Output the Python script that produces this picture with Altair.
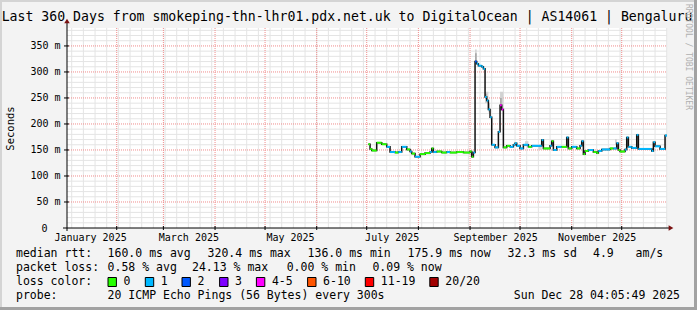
import altair as alt
import pandas as pd

MONO = "DejaVu Sans Mono"

# ---------------- data ----------------
seg_start = [
    "2025-07-02", "2025-07-03", "2025-07-04", "2025-07-07", "2025-07-10", "2025-07-13", "2025-07-15",
    "2025-07-18", "2025-07-20", "2025-07-22", "2025-07-25", "2025-07-27", "2025-07-28", "2025-07-30",
    "2025-08-02", "2025-08-05", "2025-08-08", "2025-08-09", "2025-08-10", "2025-08-12", "2025-08-15",
    "2025-08-18", "2025-08-20", "2025-08-24", "2025-08-28",
    "2025-09-01", "2025-09-02", "2025-09-03", "2025-09-04", "2025-09-05", "2025-09-06", "2025-09-08",
    "2025-09-09", "2025-09-10", "2025-09-11", "2025-09-12", "2025-09-13", "2025-09-14", "2025-09-16",
    "2025-09-18", "2025-09-19", "2025-09-20", "2025-09-21", "2025-09-23", "2025-09-25", "2025-09-27",
    "2025-09-28", "2025-09-29",
    "2025-10-01", "2025-10-03", "2025-10-06", "2025-10-08", "2025-10-14", "2025-10-15", "2025-10-19",
    "2025-10-20", "2025-10-21", "2025-10-23", "2025-10-26", "2025-10-29", "2025-10-30",
    "2025-11-01", "2025-11-04", "2025-11-06", "2025-11-07", "2025-11-08", "2025-11-09", "2025-11-11",
    "2025-11-14", "2025-11-16", "2025-11-17", "2025-11-19", "2025-11-24", "2025-11-26", "2025-11-28",
    "2025-11-29", "2025-11-30",
    "2025-12-03", "2025-12-04", "2025-12-05", "2025-12-07", "2025-12-10", "2025-12-11", "2025-12-19",
    "2025-12-20", "2025-12-21", "2025-12-24", "2025-12-27",
]
seg_rtt = [
    161, 152, 149, 164, 161, 156, 146, 145, 146, 156, 151, 147, 143, 137,
    142, 144, 146, 153, 146, 147, 145, 146, 145, 146, 145,
    147, 137, 145, 320, 316, 312, 310, 306, 252, 245, 228, 213, 160, 155, 185, 236, 228, 155, 158,
    156, 160, 163, 158,
    153, 160, 156, 158, 169, 153, 158, 167, 150, 156, 156, 174, 153,
    156, 153, 158, 167, 142, 148, 150, 146, 144, 148, 151, 153, 153, 163, 150, 147,
    151, 174, 156, 154, 179, 152, 148, 165, 157, 152, 178,
]
seg_loss = [
    "0", "0", "0", "0", "0", "1", "1", "0", "1", "1", "0", "1", "0", "1",
    "0", "0", "1", "0", "1", "0", "0", "1", "0", "0", "0",
    "0", "0", "1", "2", "1", "1", "1", "1", "1", "1", "1", "1", "1", "1", "1", "4-5", "4-5", "0", "0",
    "1", "1", "1", "1",
    "1", "1", "0", "1", "1", "0", "1", "0", "1", "1", "0", "1", "0",
    "1", "0", "1", "1", "0", "0", "1", "0", "0", "1", "1", "0", "1", "1", "0", "0",
    "1", "1", "1", "1", "1", "1", "1", "1", "1", "1", "1",
]
END_TIME = "2025-12-28T04:05:00Z"

# smoke (spread of the pings)
smoke_out_start = ["2025-09-04", "2025-09-10", "2025-09-12", "2025-09-19", "2025-10-04", "2025-10-12", "2025-11-27"]
smoke_out_end = ["2025-09-05", "2025-09-12", "2025-09-13", "2025-09-21", "2025-10-06", "2025-10-14", "2025-11-28"]
smoke_out_lo = [316, 240, 222, 226, 157, 150, 160]
smoke_out_hi = [343, 262, 240, 262, 167, 160, 171]
smoke_in_start = ["2025-09-04", "2025-09-10", "2025-09-19"]
smoke_in_end = ["2025-09-05", "2025-09-11", "2025-09-20"]
smoke_in_lo = [318, 248, 230]
smoke_in_hi = [336, 258, 250]

loss_labels = ["0", "1", "2", "3", "4-5", "6-10", "11-19", "20/20"]
loss_colors = ["#26ff00", "#00b8ff", "#0059ff", "#7e00ff", "#ff00ff", "#ff5500", "#ff0000", "#a10000"]

y_tick_values = [0, 50, 100, 150, 200, 250, 300, 350]
y_minor_values = [v for v in range(10, 390, 10) if v % 50 != 0]
y_major_values = [50, 100, 150, 200, 250, 300, 350]
label_months = [1, 3, 5, 7, 9, 11]

title_text = "Last 360 Days from smokeping-thn-lhr01.pdx.net.uk to DigitalOcean | AS14061 | Bengaluru"
row_rtt = ["median rtt:", "160.0 ms avg", "320.4 ms max", "136.0 ms min", "175.9 ms now", "32.3 ms sd", "4.9", "am/s"]
row_loss = ["packet loss:", "0.58 % avg", "24.13 % max", "0.00 % min", "0.09 % now"]
row_probe = ["probe:", "20 ICMP Echo Pings (56 Bytes) every 300s"]
probe_date = "Sun Dec 28 04:05:49 2025"

# ---------------- layout (pixels) ----------------
PL, PT, W, H = 67, 28, 600, 200
TOTAL_W, TOTAL_H = 697, 310
row_rtt_x = [16, 107.6, 207.6, 307.6, 407.6, 507.6, 593, 635.6]
row_loss_x = [16, 107.6, 192, 286.7, 372.4]
row_probe_x = [16, 107.6]
box_x = [108, 145.3, 182, 219.6, 256.4, 307.6, 365.3, 429.8]
ROW_Y = [254, 268, 282, 296]
FS = 11.5
MINOR_GRID = "#e4e4e4"
MAJOR_GRID = "#f08c8c"

week_dates = pd.date_range("2025-01-05", "2025-12-28", freq="7D").strftime("%Y-%m-%d").tolist()
month_dates = pd.date_range("2025-02-01", "2025-12-01", freq="MS").strftime("%Y-%m-%d").tolist()

x_scale = alt.Scale(
    type="utc",
    domain=[alt.DateTime(year=2025, month=1, date=2, hours=4, minutes=5, utc=True),
            alt.DateTime(year=2025, month=12, date=28, hours=4, minutes=5, utc=True)],
    nice=False,
)
y_scale = alt.Scale(domain=[0, 384.5], nice=False, zero=True)

x_axis = alt.Axis(
    values=[alt.DateTime(year=2025, month=m, date=16, utc=True) for m in label_months],
    labelExpr="utcFormat(datum.value, '%B %Y')",
    grid=False, ticks=False, domain=False,
    labelFont=MONO, labelFontSize=10, labelColor="#000000", labelPadding=4,
    labelFlush=False, labelOverlap=False, labelAngle=0, title=None,
)
y_axis = alt.Axis(
    values=y_tick_values,
    labelExpr="datum.value == 0 ? '0' : datum.value + '\u00a0m'",
    grid=False, ticks=False, domain=False,
    labelFont=MONO, labelFontSize=10, labelColor="#000000",
    labelPadding={"condition": {"test": "datum.value == 0", "value": 20}, "value": 7},
    title="Seconds", titleFont=MONO, titleFontSize=10.5, titleFontWeight="normal",
    titleColor="#000000", titleX=-56.5, titleY=100, titleAngle=270,
    titleAlign="center", titleBaseline="middle",
)


def X(f):
    return alt.X(f"{f}:T", scale=x_scale, axis=x_axis)


def Y(f):
    return alt.Y(f"{f}:Q", scale=y_scale, axis=y_axis)


one = pd.DataFrame({"k": [0]})
layers = []

# grid: minor (weekly / 10 ms) light grey, major (monthly / 50 ms) red dotted
layers.append(alt.Chart(pd.DataFrame({"w": week_dates})).mark_rule(color=MINOR_GRID, strokeWidth=1)
              .encode(x=X("w"), y=alt.value(0), y2=alt.value(H)))
layers.append(alt.Chart(pd.DataFrame({"nv": y_minor_values})).mark_rule(color=MINOR_GRID, strokeWidth=1)
              .encode(y=Y("nv"), x=alt.value(0), x2=alt.value(W)))
layers.append(alt.Chart(pd.DataFrame({"m": month_dates})).mark_rule(color=MAJOR_GRID, strokeDash=[1, 1], strokeWidth=1)
              .encode(x=X("m"), y=alt.value(0), y2=alt.value(H)))
layers.append(alt.Chart(pd.DataFrame({"mv": y_major_values})).mark_rule(color=MAJOR_GRID, strokeDash=[1, 1], strokeWidth=1)
              .encode(y=Y("mv"), x=alt.value(0), x2=alt.value(W)))

# smoke
smoke_out = pd.DataFrame({"d": smoke_out_start, "d2": smoke_out_end, "lo": smoke_out_lo, "hi": smoke_out_hi})
smoke_in = pd.DataFrame({"d": smoke_in_start, "d2": smoke_in_end, "lo": smoke_in_lo, "hi": smoke_in_hi})
layers.append(alt.Chart(smoke_out).mark_rect(color="#d2d2d2")
              .encode(x=X("d"), x2="d2:T", y=Y("lo"), y2="hi:Q"))
layers.append(alt.Chart(smoke_in).mark_rect(color="#a8a8a8")
              .encode(x=X("d"), x2="d2:T", y=Y("lo"), y2="hi:Q"))

# median line (black staircase) and loss-coloured steps
line_df = pd.DataFrame({"d": seg_start + [END_TIME], "rtt": seg_rtt + [seg_rtt[-1]]})
layers.append(alt.Chart(line_df).mark_line(interpolate="step-after", color="#111111", strokeWidth=1.5)
              .encode(x=X("d"), y=Y("rtt")))
seg_df = pd.DataFrame({"d": seg_start, "d2": seg_start[1:] + [END_TIME], "rtt": seg_rtt, "loss": seg_loss})
layers.append(alt.Chart(seg_df).mark_rule(strokeWidth=2)
              .encode(x=X("d"), x2="d2:T", y=Y("rtt"),
                      color=alt.Color("loss:N", scale=alt.Scale(domain=loss_labels, range=loss_colors), legend=None)))

# axes lines, ticks, arrows
layers.append(alt.Chart(one).mark_rule(color="#000000")
              .encode(x=alt.value(-4), x2=alt.value(W + 3), y=alt.value(H)))
layers.append(alt.Chart(one).mark_rule(color="#000000")
              .encode(x=alt.value(0), y=alt.value(-6), y2=alt.value(H + 3)))
layers.append(alt.Chart(pd.DataFrame({"m": month_dates})).mark_rule(color="#000000")
              .encode(x=X("m"), y=alt.value(H - 2), y2=alt.value(H + 2)))
layers.append(alt.Chart(pd.DataFrame({"mv": y_major_values})).mark_rule(color="#000000")
              .encode(y=Y("mv"), x=alt.value(-3), x2=alt.value(2)))
layers.append(alt.Chart(one).mark_point(shape="triangle-right", filled=True, size=30, color="#7a1111", opacity=1)
              .encode(x=alt.value(W + 4), y=alt.value(H)))
layers.append(alt.Chart(one).mark_point(shape="triangle-up", filled=True, size=30, color="#7a1111", opacity=1)
              .encode(x=alt.value(0), y=alt.value(-7)))


def label(text, x, y, align="left", size=FS, color="#000000", angle=0, font=MONO):
    props = dict(align=align, baseline="middle", font=font, fontSize=size, color=color)
    if angle:
        props["angle"] = angle
    return (alt.Chart(pd.DataFrame({"t": [text]})).mark_text(**props)
            .encode(text="t:N", x=alt.value(x - PL), y=alt.value(y - PT)))


layers.append(label(title_text, 347, 17, align="center", size=13.2))
layers.append(label("RRDTOOL / TOBI OETIKER", 688, 4, align="left", size=8, color="#b0b0b0", angle=90))
for t, x in zip(row_rtt, row_rtt_x):
    layers.append(label(t, x, ROW_Y[0]))
for t, x in zip(row_loss, row_loss_x):
    layers.append(label(t, x, ROW_Y[1]))
layers.append(label("loss color:", 16, ROW_Y[2]))
for lab, col, bx in zip(loss_labels, loss_colors, box_x):
    layers.append(alt.Chart(one).mark_rect(color=col, stroke="#000000", strokeWidth=1)
                  .encode(x=alt.value(bx - PL), x2=alt.value(bx - PL + 8.4),
                          y=alt.value(ROW_Y[2] - 4.5 - PT), y2=alt.value(ROW_Y[2] + 4.5 - PT)))
    layers.append(label(lab, bx + 15.5, ROW_Y[2]))
for t, x in zip(row_probe, row_probe_x):
    layers.append(label(t, x, ROW_Y[3]))
layers.append(label(probe_date, 680, ROW_Y[3], align="right"))

# outer frame of the picture (light top/left, dark bottom/right)
frame = [
    (0, TOTAL_W, 0, 2, "#d4d4d4"),
    (0, 2, 0, TOTAL_H, "#d4d4d4"),
    (TOTAL_W - 3, TOTAL_W, 0, TOTAL_H, "#a2a2a2"),
    (0, TOTAL_W, TOTAL_H - 3, TOTAL_H, "#a2a2a2"),
]
for x1, x2, y1, y2, c in frame:
    layers.append(alt.Chart(one).mark_rect(color=c)
                  .encode(x=alt.value(x1 - PL), x2=alt.value(x2 - PL),
                          y=alt.value(y1 - PT), y2=alt.value(y2 - PT)))

chart = (
    alt.layer(*layers)
    .properties(
        width=W, height=H,
        padding={"left": PL, "top": PT, "right": TOTAL_W - PL - W, "bottom": TOTAL_H - PT - H},
        autosize=alt.AutoSizeParams(type="none"),
        background="#f3f3f3",
    )
    .configure_view(fill="white", strokeWidth=0)
)

chart.save("out.html", embed_options={"renderer": "svg", "actions": False})
